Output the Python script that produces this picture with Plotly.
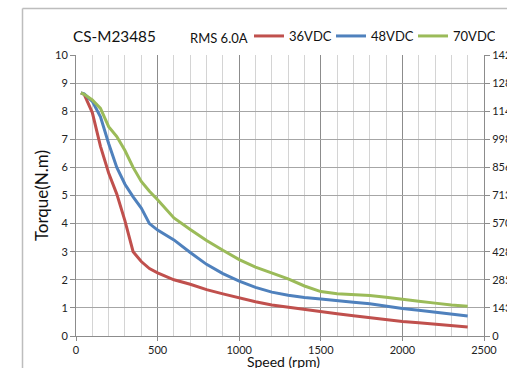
import plotly.graph_objects as go

speed = [30, 50, 100, 150, 200, 250, 300, 350, 400, 450, 500, 600, 700, 800, 900,
         1000, 1100, 1200, 1300, 1400, 1500, 1600, 1700, 1800, 1900, 2000, 2100,
         2200, 2300, 2400]
t36 = [8.65, 8.6, 7.95, 6.75, 5.8, 5.05, 4.1, 3.0, 2.65, 2.4, 2.25, 2.0, 1.84, 1.65, 1.5,
       1.35, 1.22, 1.1, 1.02, 0.93, 0.85, 0.79, 0.72, 0.65, 0.58, 0.52, 0.47,
       0.42, 0.37, 0.32]
t48 = [8.65, 8.62, 8.35, 7.8, 6.85, 6.0, 5.4, 4.95, 4.55, 4.0, 3.77, 3.42, 2.97, 2.55, 2.22,
       1.95, 1.73, 1.56, 1.45, 1.37, 1.32, 1.25, 1.2, 1.15, 1.06, 0.98, 0.92,
       0.85, 0.78, 0.71]
t70 = [8.65, 8.6, 8.4, 8.1, 7.45, 7.1, 6.6, 6.0, 5.5, 5.15, 4.85, 4.2, 3.79, 3.4, 3.05,
       2.72, 2.45, 2.24, 2.03, 1.78, 1.58, 1.5, 1.48, 1.44, 1.38, 1.3, 1.24,
       1.17, 1.1, 1.06]

series_names = ["36VDC", "48VDC", "70VDC"]
series_colors = ["#c0504d", "#4f81bd", "#9bbb59"]

left_ticks = [0, 1, 2, 3, 4, 5, 6, 7, 8, 9, 10]
right_ticktext = ["0", "143", "285", "428", "570", "713", "856", "998", "1141", "1284", "1426"]

FONT = "Lato"

# body margin is removed in post_script, so the figure fills the window
OFF = 0
W, H = 507, 368
L, R, T, B = 76, 484, 55, 336
pw, ph = R - L, B - T


def px(x):
    # page pixel x -> paper coordinate
    return (x - OFF - L) / pw


def py(y):
    # page pixel y -> paper coordinate
    return (B - (y - OFF)) / ph


fig = go.Figure()
for name, col, vals in zip(series_names, series_colors, [t36, t48, t70]):
    fig.add_trace(go.Scatter(x=speed, y=vals, mode="lines", name=name,
                             line=dict(color=col, width=3)))

# invisible trace to activate right axis
fig.add_trace(go.Scatter(x=[0, 2500], y=[0, 10], yaxis="y2", mode="lines",
                         line=dict(width=0, color="rgba(0,0,0,0)"),
                         showlegend=False, hoverinfo="skip"))

fig.update_layout(
    width=W, height=H,
    template="none",
    paper_bgcolor="white", plot_bgcolor="white",
    margin=dict(l=L, r=W - R, t=T, b=H - B, pad=0, autoexpand=False),
    font=dict(family=FONT, size=11, color="#222"),
    showlegend=True,
    legend=dict(orientation="h", x=px(249), y=py(36), xanchor="left", yanchor="middle",
                font=dict(size=13, family=FONT, color="#111"),
                bgcolor="rgba(0,0,0,0)", borderwidth=0, itemwidth=30,
                tracegroupgap=0, entrywidth=37, entrywidthmode="pixels"),
    xaxis=dict(range=[0, 2500], dtick=500, tick0=0, showgrid=True,
               gridcolor="#8c8c8c", gridwidth=1,
               minor=dict(dtick=100, showgrid=True, gridcolor="#d4d4d4", gridwidth=1),
               showline=True, linecolor="#8c8c8c", linewidth=1,
               ticks="outside", ticklen=4, tickcolor="#8c8c8c",
               tickfont=dict(size=11, family=FONT, color="#222"),
               zeroline=False, automargin=False),
    yaxis=dict(range=[0, 10], tickvals=left_ticks, showgrid=True,
               gridcolor="#a6a6a6", gridwidth=1,
               showline=True, linecolor="#8c8c8c", linewidth=1,
               ticks="outside", ticklen=5, tickcolor="#8c8c8c",
               tickfont=dict(size=11, family=FONT, color="#222"),
               zeroline=False, automargin=False,
               title=dict(text="Torque(N.m)", font=dict(size=17, family=FONT, color="#111"),
                          standoff=2)),
    yaxis2=dict(range=[0, 10], tickvals=left_ticks, ticktext=right_ticktext,
                overlaying="y", side="right", showgrid=False,
                showline=True, linecolor="#8c8c8c", linewidth=1,
                ticks="outside", ticklen=5, tickcolor="#8c8c8c",
                tickfont=dict(size=11, family=FONT, color="#222"),
                zeroline=False, automargin=False),
    annotations=[
        dict(text="CS-M23485", xref="paper", yref="paper", x=px(71), y=py(36),
             xanchor="left", yanchor="middle", showarrow=False,
             font=dict(size=15.3, family=FONT, color="#111")),
        dict(text="RMS 6.0A", xref="paper", yref="paper", x=px(188), y=py(38),
             xanchor="left", yanchor="middle", showarrow=False,
             font=dict(size=13, family=FONT, color="#111")),
        dict(text="Speed (rpm)", xref="paper", yref="paper", x=px(283), y=py(361),
             xanchor="center", yanchor="middle", showarrow=False,
             font=dict(size=14, family=FONT, color="#111")),
    ],
    shapes=[
        dict(type="line", xref="paper", yref="paper", x0=px(22.5), x1=px(22.5),
             y0=py(8.5), y1=py(380), line=dict(color="#bdbdbd", width=1.5)),
        dict(type="line", xref="paper", yref="paper", x0=px(22.5), x1=px(520),
             y0=py(8.5), y1=py(8.5), line=dict(color="#bdbdbd", width=1.5)),
    ],
)

fig.write_html(
    "out.html",
    config={"displayModeBar": False},
    post_script="document.body.style.margin='0';document.body.style.overflow='hidden';",
)
